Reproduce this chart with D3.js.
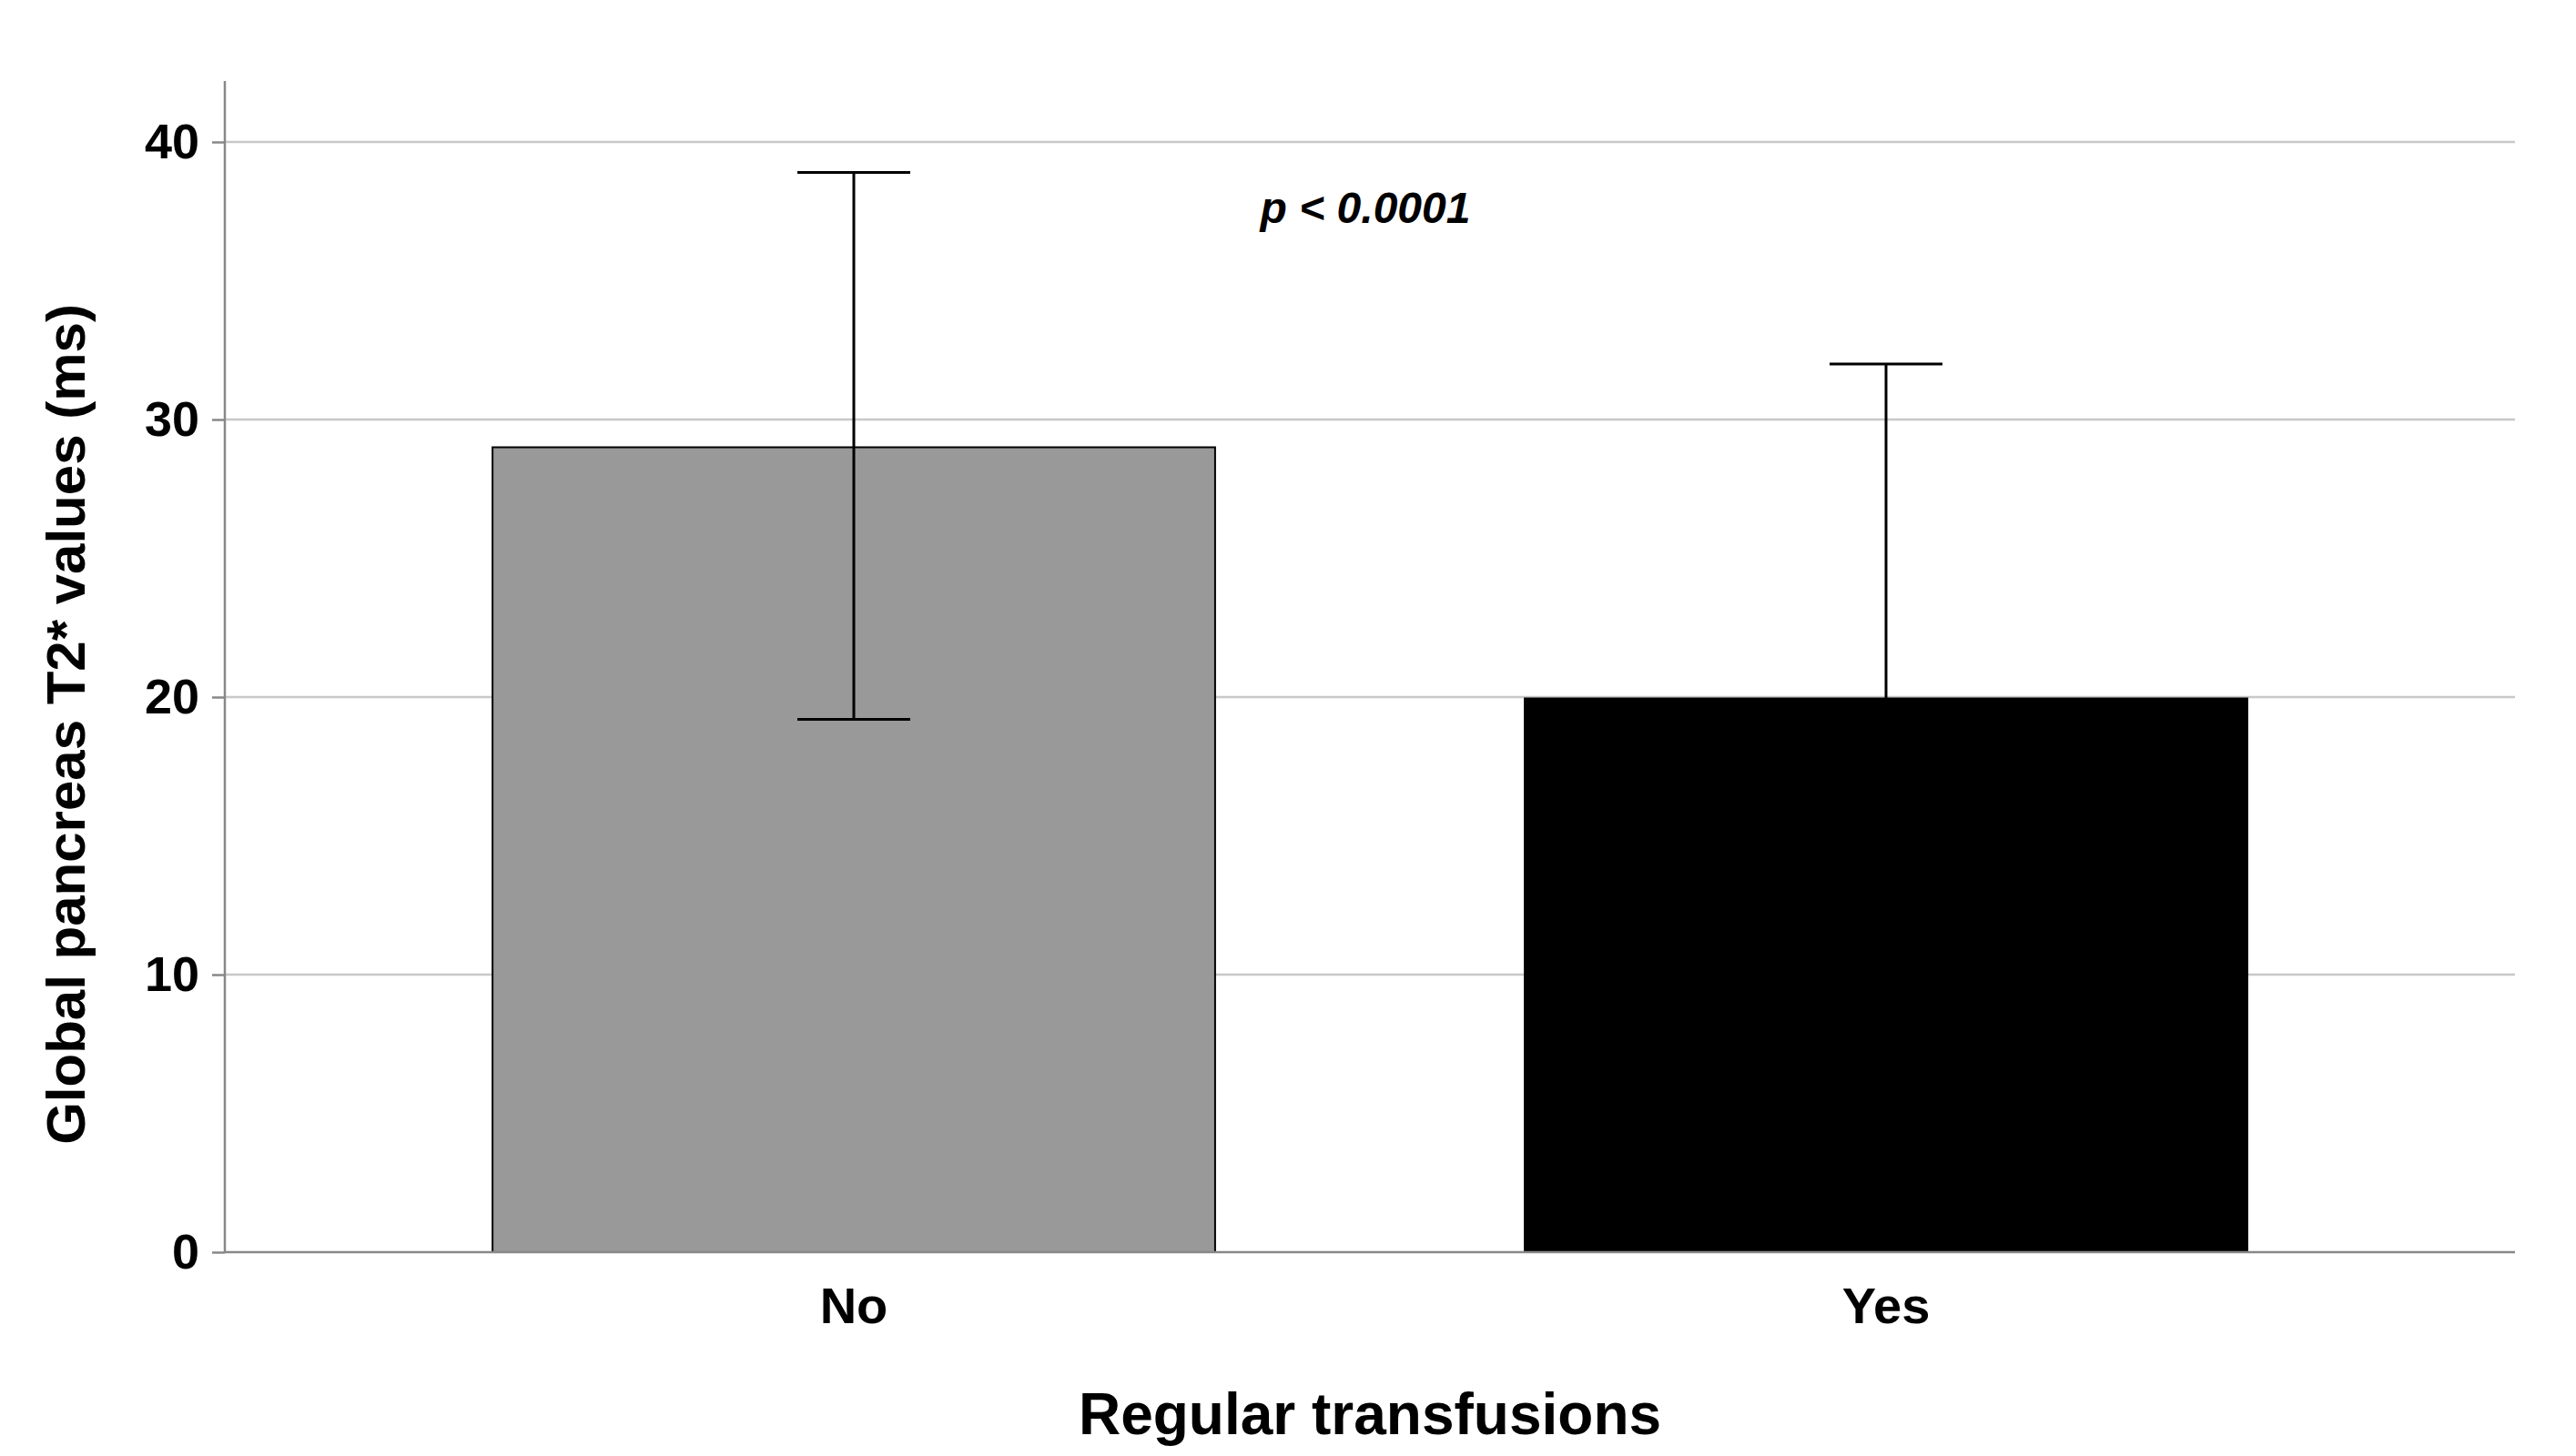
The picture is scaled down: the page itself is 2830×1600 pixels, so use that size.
<!DOCTYPE html>
<html><head><meta charset="utf-8">
<script src="https://cdn.jsdelivr.net/npm/d3@7"></script>
<style>body{margin:0;background:#fff}</style></head>
<body><svg id="c" width="2830" height="1600"></svg>
<script>
const categories = ["No", "Yes"];
const means = [29.0, 19.95];
const upper = [38.9, 32.0];
const lower = [19.2, null];
const colors = ["#999999", "#000000"];
const yTicks = [0, 10, 20, 30, 40];

const svg = d3.select("#c");
const xL = 247, xR = 2763, yB = 1376, yT = 156;
const y = d3.scaleLinear().domain([0, 40]).range([yB, yT]);
const x = d3.scaleBand().domain(categories).range([371, 2639]).paddingInner(0.3).paddingOuter(0.15);
const font = "Arial, 'Liberation Sans', sans-serif";

// gridlines
svg.append("g").selectAll("line").data(yTicks.filter(d => d > 0)).join("line")
  .attr("x1", xL).attr("x2", xR).attr("y1", d => y(d)).attr("y2", d => y(d))
  .attr("stroke", "#c8c8c8").attr("stroke-width", 2.5);

// bars
svg.append("g").selectAll("rect").data(categories).join("rect")
  .attr("x", d => x(d)).attr("width", x.bandwidth())
  .attr("y", (d, i) => y(means[i])).attr("height", (d, i) => yB - y(means[i]))
  .attr("fill", (d, i) => colors[i]).attr("stroke", "#000").attr("stroke-width", 2);

// error bars
const eg = svg.append("g").attr("stroke", "#000").attr("stroke-width", 3);
categories.forEach((c, i) => {
  const cx = x(c) + x.bandwidth() / 2, cap = 62;
  const lo = lower[i] == null ? means[i] : lower[i];
  eg.append("line").attr("x1", cx).attr("x2", cx).attr("y1", y(upper[i])).attr("y2", y(lo));
  eg.append("line").attr("x1", cx - cap).attr("x2", cx + cap).attr("y1", y(upper[i])).attr("y2", y(upper[i]));
  if (lower[i] != null)
    eg.append("line").attr("x1", cx - cap).attr("x2", cx + cap).attr("y1", y(lower[i])).attr("y2", y(lower[i]));
});

// axes
const ya = svg.append("g").attr("transform", `translate(${xL},0)`)
  .call(d3.axisLeft(y).tickValues(yTicks).tickSize(14).tickPadding(14));
ya.select(".domain").attr("d", `M0,${yB}V${y(42.2)}`).attr("stroke", "#888").attr("stroke-width", 2.5);
ya.selectAll(".tick line").attr("stroke", "#888").attr("stroke-width", 2.5);
ya.selectAll("text").attr("font-family", font).attr("font-size", 54).attr("font-weight", "bold").attr("fill", "#000");

svg.append("line").attr("x1", xL).attr("x2", xR).attr("y1", yB).attr("y2", yB)
  .attr("stroke", "#888").attr("stroke-width", 2.5);
const xa = svg.append("g").attr("transform", `translate(0,${yB})`)
  .call(d3.axisBottom(x).tickSize(0).tickPadding(38));
xa.select(".domain").remove();
xa.selectAll("text").attr("font-family", font).attr("font-size", 56).attr("font-weight", "bold").attr("fill", "#000");

svg.append("text").attr("x", 1505).attr("y", 1576).attr("text-anchor", "middle")
  .attr("font-family", font).attr("font-size", 64).attr("font-weight", "bold").text("Regular transfusions");
svg.append("text").attr("transform", `translate(93,${(yB + yT) / 2 + 30}) rotate(-90)`).attr("text-anchor", "middle")
  .attr("font-family", font).attr("font-size", 60).attr("font-weight", "bold").text("Global pancreas T2* values (ms)");
svg.append("text").attr("x", 1500).attr("y", 245).attr("text-anchor", "middle")
  .attr("font-family", font).attr("font-size", 48).attr("font-weight", "bold").attr("font-style", "italic").text("p < 0.0001");
</script></body></html>
